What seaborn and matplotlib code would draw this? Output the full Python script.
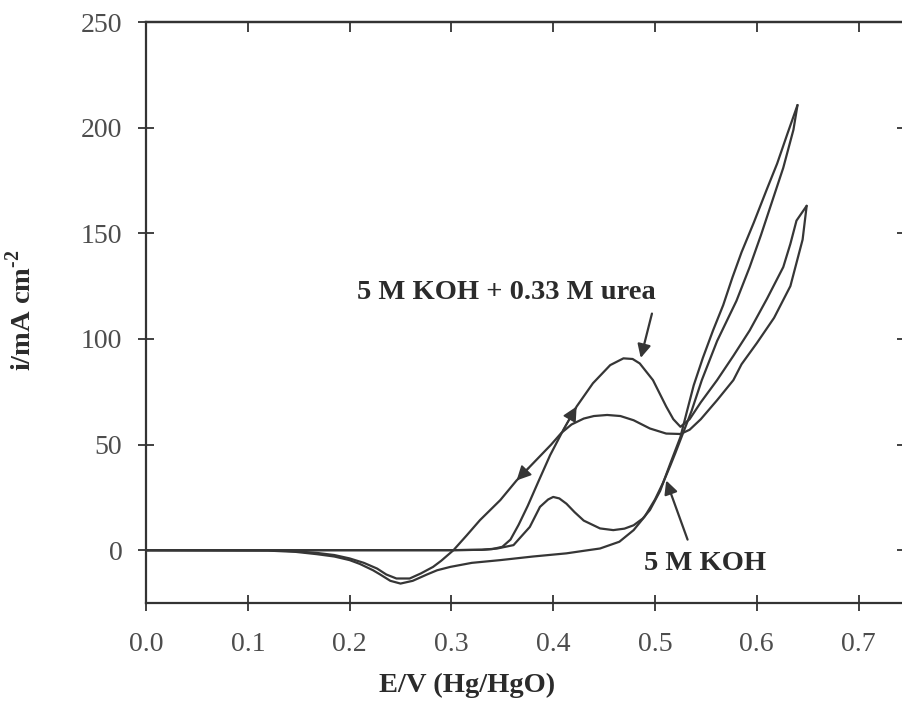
import pandas as pd
import matplotlib
matplotlib.use("Agg")
import matplotlib.pyplot as plt
import seaborn as sns

sns.set_style("ticks")
plt.rcParams['font.family'] = ['Liberation Serif', 'DejaVu Serif']
plt.rcParams['mathtext.fontset'] = 'custom'
plt.rcParams['mathtext.rm'] = 'Liberation Serif:bold'
plt.rcParams['mathtext.bf'] = 'Liberation Serif:bold'

LINE = "#363636"
INK = "#2b2b2b"
TICK_TXT = "#4d4d4d"

# --- DATA ---
# 5 M KOH, forward (anodic) sweep
koh_fwd_E = [0.00, 0.10, 0.20, 0.30, 0.330, 0.345, 0.361, 0.377, 0.387, 0.395, 0.400,
             0.406, 0.413, 0.421, 0.430, 0.446, 0.459, 0.470, 0.479, 0.488, 0.495,
             0.505, 0.515, 0.525, 0.531, 0.538, 0.547, 0.557, 0.567, 0.576, 0.585,
             0.597, 0.610, 0.620, 0.630, 0.640]
koh_fwd_i = [0, 0, 0, 0, 0.2, 0.8, 2.4, 11, 20.5, 24, 25.2,
             24.5, 22, 18, 14, 10.3, 9.5, 10.2, 11.8, 15, 19,
             28, 41, 53.6, 65, 78, 91, 104, 116, 129, 141,
             155, 171, 183, 197, 210.7]
# 5 M KOH, reverse (cathodic) sweep
koh_rev_E = [0.640, 0.636, 0.626, 0.615, 0.604, 0.593, 0.580, 0.569, 0.561, 0.546,
             0.536, 0.528, 0.520, 0.515, 0.508, 0.500, 0.490, 0.479, 0.465, 0.446,
             0.430, 0.413, 0.380, 0.348, 0.320, 0.299, 0.286, 0.276, 0.262, 0.250,
             0.240, 0.230, 0.223, 0.210, 0.200, 0.185, 0.168, 0.147, 0.120, 0.00]
koh_rev_i = [210.7, 199, 181, 165, 149, 134, 118, 107, 99, 80.5,
             66, 56, 46, 40, 32, 24, 16, 9.5, 4, 0.8,
             -0.3, -1.5, -3, -4.7, -6, -7.9, -9.5, -11.5, -14.5, -15.8,
             -14.5, -11.5, -9.5, -6.5, -4.7, -3, -1.9, -0.8, -0.2, 0]
# 5 M KOH + 0.33 M urea, forward sweep
urea_fwd_E = [0.00, 0.10, 0.20, 0.30, 0.330, 0.340, 0.350, 0.358, 0.366, 0.375, 0.385,
              0.397, 0.410, 0.423, 0.439, 0.456, 0.469, 0.478, 0.485,
              0.498, 0.511, 0.518, 0.525, 0.534, 0.545, 0.561, 0.577, 0.593, 0.610,
              0.626, 0.633, 0.639, 0.649]
urea_fwd_i = [0, 0, 0, 0, 0.2, 0.5, 1.6, 5, 12, 21, 32,
              45, 57, 68, 79, 87.6, 90.8, 90.5, 88.4,
              80.5, 68, 62, 58.4, 62, 70, 80.5, 92, 104, 119,
              134, 145, 156, 163]
# 5 M KOH + 0.33 M urea, reverse sweep
urea_rev_E = [0.649, 0.645, 0.633, 0.617, 0.600, 0.585, 0.577, 0.561, 0.545, 0.534,
              0.525, 0.511, 0.495, 0.479, 0.466, 0.453, 0.440, 0.430, 0.418, 0.408,
              0.398, 0.388, 0.376, 0.364, 0.348, 0.328, 0.315, 0.302, 0.290, 0.282, 0.270,
              0.259, 0.246, 0.236, 0.227, 0.214, 0.200, 0.185, 0.168, 0.147, 0.120, 0.00]
urea_rev_i = [163, 147, 125, 110, 98, 88, 80.5, 71, 62, 57,
              55, 55.2, 57.6, 61.5, 63.5, 64, 63.5, 62.3, 59.5, 55.5,
              50, 45, 39, 33, 23.7, 14.2, 7, 0, -5, -7.9, -11,
              -13.4, -13.4, -11.5, -8.7, -6, -3.9, -2.3, -1.3, -0.5, 0, 0]

x_ticks = [0.0, 0.1, 0.2, 0.3, 0.4, 0.5, 0.6, 0.7]
y_ticks = [0, 50, 100, 150, 200, 250]

branches = {
    "koh_fwd": (koh_fwd_E, koh_fwd_i),
    "koh_rev": (koh_rev_E, koh_rev_i),
    "urea_fwd": (urea_fwd_E, urea_fwd_i),
    "urea_rev": (urea_rev_E, urea_rev_i),
}
df = pd.concat([pd.DataFrame({"E": e, "i": i, "branch": name})
                for name, (e, i) in branches.items()], ignore_index=True)

# --- FIGURE ---
fig = plt.figure(figsize=(9.02, 7.10), dpi=100)
ax = fig.add_axes([0.1619, 0.1507, 0.8464, 0.8183])

sns.lineplot(data=df, x="E", y="i", units="branch", estimator=None, sort=False,
             color=LINE, lw=1.6, ax=ax, legend=False)

# direction arrows on the urea curve
head = dict(arrowstyle="-|>", color=LINE, lw=1.2, mutation_scale=22, shrinkA=0, shrinkB=0)
ax.annotate("", xy=(urea_fwd_E[13], urea_fwd_i[13]), xytext=(urea_fwd_E[12], urea_fwd_i[12]),
            arrowprops=head)
ax.annotate("", xy=(urea_rev_E[23], urea_rev_i[23]), xytext=(urea_rev_E[22], urea_rev_i[22]),
            arrowprops=head)

# labels with pointer arrows
pointer = dict(arrowstyle="-|>", color=LINE, lw=1.6, mutation_scale=20, shrinkA=0, shrinkB=0)
ax.annotate("", xy=(0.486, 91), xytext=(0.497, 112), arrowprops=pointer)
ax.text(0.354, 122, "5 M KOH + 0.33 M urea", ha="center", va="center",
        fontsize=20.5, fontweight="bold", color=INK)
ax.annotate("", xy=(0.511, 33), xytext=(0.532, 5), arrowprops=pointer)
ax.text(0.549, -6.5, "5 M KOH", ha="center", va="center",
        fontsize=20.5, fontweight="bold", color=INK)

ax.set_xlim(0, 0.75)
ax.set_ylim(-25, 250)
ax.set_xticks(x_ticks)
ax.set_xticklabels([f"{v:.1f}" for v in x_ticks])
ax.set_yticks(y_ticks)

for s in ax.spines.values():
    s.set_visible(True)
    s.set_linewidth(1.6)
    s.set_color("#333333")

ax.tick_params(axis="x", which="major", direction="inout", length=12, width=1.3,
               colors="#333333", labelcolor=TICK_TXT, labelsize=20, pad=15, top=False)
ax.tick_params(axis="y", which="major", direction="inout", length=12, width=1.3,
               colors="#333333", labelcolor=TICK_TXT, labelsize=20, pad=11, right=False)

# ticks on top and right edges pointing inward
sec_x = ax.secondary_xaxis("top")
sec_x.set_xticks(x_ticks)
sec_x.tick_params(direction="in", length=7, width=1.3, colors="#333333", labeltop=False)
sec_x.spines["top"].set_linewidth(1.6)
sec_y = ax.secondary_yaxis("right")
sec_y.set_yticks(y_ticks)
sec_y.tick_params(direction="in", length=9, width=1.3, colors="#333333", labelright=False)
sec_y.spines["right"].set_linewidth(1.6)

ax.set_xlabel("E/V (Hg/HgO)", fontsize=20.5, fontweight="bold", color=INK)
ax.set_ylabel(r"i/mA cm$^{\text{-2}}$", fontsize=20.5, fontweight="bold", color=INK)
ax.xaxis.set_label_coords(0.42, -0.121)
ax.yaxis.set_label_coords(-0.143, 0.504)

fig.savefig("out.png", dpi=100, facecolor="white")
